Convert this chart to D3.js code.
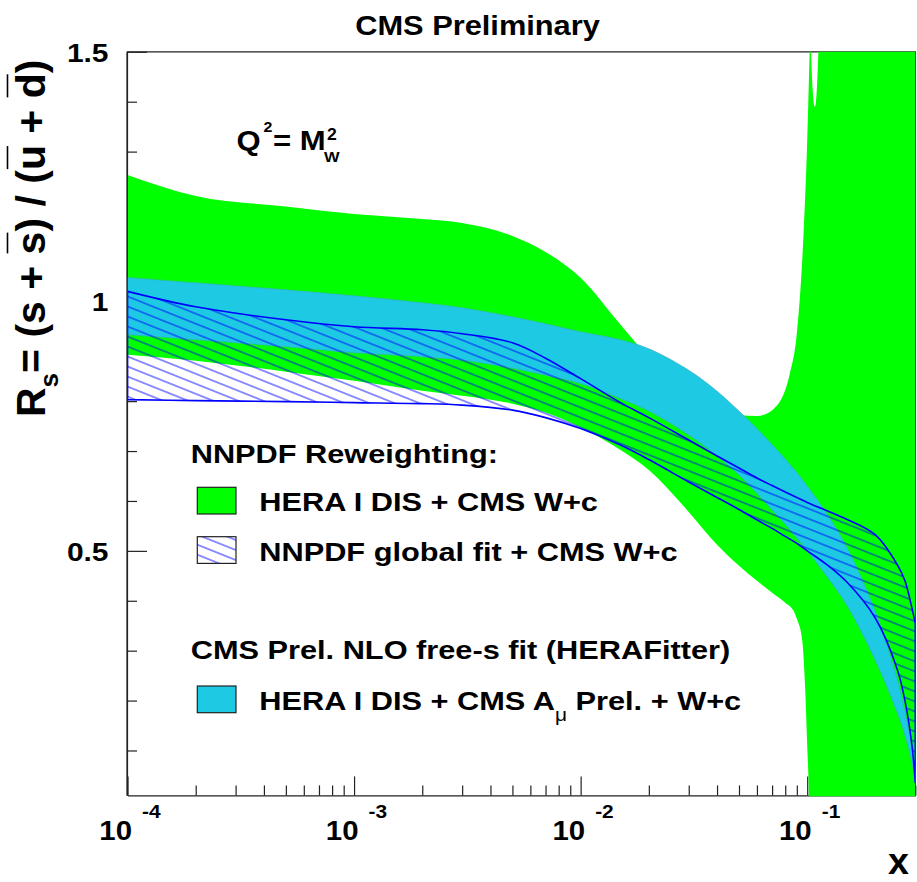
<!DOCTYPE html>
<html>
<head>
<meta charset="utf-8">
<script src="https://cdn.jsdelivr.net/npm/d3@7"></script>
<style>
  body { margin: 0; background: #fff; }
  text { font-family: "Liberation Sans", Arial, Helvetica, sans-serif; font-weight: bold; fill: #000; }
</style>
</head>
<body>
<script>
// ---- data ----
// common x grid for the HERAFitter band and the NNPDF global-fit band
var xGrid   = [1e-4, 2e-4, 5e-4, 1e-3, 2e-3, 3e-3, 5e-3, 7e-3, 0.01, 0.015, 0.02, 0.03, 0.04,
               0.05, 0.06, 0.07, 0.08, 0.09, 0.1, 0.12, 0.15, 0.2, 0.25, 0.27, 0.29, 0.3];
var cyanHi  = [1.048, 1.037, 1.023, 1.011, 0.997, 0.987, 0.969, 0.955, 0.939, 0.923, 0.905, 0.862, 0.82,
               0.78, 0.745, 0.713, 0.684, 0.657, 0.63, 0.58, 0.506, 0.378, 0.242, 0.178, 0.106, 0.058];
var cyanLo  = [0.933, 0.923, 0.909, 0.897, 0.889, 0.882, 0.866, 0.852, 0.835, 0.805, 0.78, 0.732, 0.69,
               0.652, 0.615, 0.582, 0.553, 0.525, 0.50, 0.453, 0.39, 0.28, 0.175, 0.13, 0.075, 0.035];
var hatchHi = [1.02, 0.989, 0.963, 0.949, 0.943, 0.935, 0.917, 0.886, 0.845, 0.797, 0.767, 0.722, 0.69,
               0.666, 0.646, 0.631, 0.618, 0.607, 0.597, 0.582, 0.563, 0.532, 0.472, 0.44, 0.385, 0.355];
var hatchLo = [0.803, 0.801, 0.799, 0.797, 0.795, 0.792, 0.782, 0.767, 0.745, 0.712, 0.683, 0.638, 0.607,
               0.583, 0.562, 0.545, 0.529, 0.515, 0.50, 0.475, 0.437, 0.365, 0.262, 0.2, 0.11, 0.035];

// NNPDF reweighting (HERA I DIS + CMS W+c) band, diverges near x = 0.1
var greenUpX = [1e-4, 2e-4, 5e-4, 1e-3, 2e-3, 3e-3, 5e-3, 7e-3, 0.01, 0.015, 0.02, 0.03, 0.04, 0.05, 0.06,
                0.0713, 0.0839, 0.09, 0.0964, 0.0997, 0.1025, 0.1033, 0.1039, 0.1082, 0.112, 0.1135, 0.12, 0.3];
var greenUp  = [1.253, 1.211, 1.19, 1.175, 1.165, 1.157, 1.131, 1.099, 1.047, 0.953, 0.889, 0.832, 0.795, 0.772, 0.77,
                0.785, 0.856, 0.936, 1.137, 1.303, 1.5, 1.56, 1.5, 1.39, 1.5, 1.7, 2.5, 2.5];
var greenLoX = [1e-4, 2e-4, 5e-4, 1e-3, 2e-3, 3e-3, 5e-3, 7e-3, 0.01, 0.015, 0.02, 0.03, 0.04, 0.05, 0.06,
                0.07, 0.08, 0.0875, 0.09, 0.095, 0.098, 0.1, 0.1017, 0.103, 0.3];
var greenLo  = [0.893, 0.881, 0.859, 0.841, 0.821, 0.811, 0.795, 0.777, 0.747, 0.702, 0.662, 0.578, 0.512, 0.47, 0.44,
                0.416, 0.396, 0.378, 0.364, 0.322, 0.222, 0.112, 0.0, -0.5, -0.5];

var xMajor = [1e-4, 1e-3, 1e-2, 1e-1];
var xMajorExp = ['-4', '-3', '-2', '-1'];
var xMinor = [2e-4, 3e-4, 4e-4, 5e-4, 6e-4, 7e-4, 8e-4, 9e-4,
              2e-3, 3e-3, 4e-3, 5e-3, 6e-3, 7e-3, 8e-3, 9e-3,
              0.02, 0.03, 0.04, 0.05, 0.06, 0.07, 0.08, 0.09, 0.2, 0.3];
var yMajor = [0.5, 1, 1.5];
var yMajorLabels = ['0.5', '1', '1.5'];
var yMinor = [0.1, 0.2, 0.3, 0.4, 0.6, 0.7, 0.8, 0.9, 1.1, 1.2, 1.3, 1.4];

var green = '#00ff00', cyan = '#1dc9e3', blue = '#0000ff';

var svg = d3.select('body').append('svg')
    .attr('width', 917)
    .attr('height', 882);

var x = d3.scaleLog().domain([1e-4, 0.3]).range([127.5, 915.3]);
var y = d3.scaleLinear().domain([0.01, 1.5]).range([795.4, 51.8]);

var defs = svg.append('defs');
defs.append('clipPath').attr('id', 'plotclip')
    .append('rect')
    .attr('x', 127.6).attr('y', 51.8)
    .attr('width', 915.3 - 127.6).attr('height', 796.2 - 51.8);

defs.append('pattern')
    .attr('id', 'hatch')
    .attr('patternUnits', 'userSpaceOnUse')
    .attr('width', 12).attr('height', 9.3)
    .attr('patternTransform', 'rotate(21.8)')
  .append('line')
    .attr('x1', 0).attr('x2', 12).attr('y1', 4.65).attr('y2', 4.65)
    .attr('stroke', blue).attr('stroke-width', 0.9);

// helper for (horizontally stretched) text
function label(g, px, py, str, size, sx, anchor) {
    return g.append('text')
        .attr('transform', 'translate(' + px + ',' + py + ') scale(' + sx + ',1)')
        .attr('text-anchor', anchor || 'start')
        .style('font-size', size + 'px')
        .text(str);
}

// frame
svg.append('path')
    .attr('d', 'M127,51.8H915.3V795.4')
    .attr('fill', 'none').attr('stroke', '#222').attr('stroke-width', 1.2);

// bottom axis (major + minor ticks, pointing up)
svg.append('g')
    .attr('transform', 'translate(0,795.4)')
    .call(d3.axisBottom(x).tickValues(xMinor).tickSize(-10).tickFormat(''))
    .call(g => g.select('.domain').remove());
svg.append('g')
    .attr('transform', 'translate(0,795.4)')
    .call(d3.axisBottom(x).tickValues(xMajor).tickSize(-19).tickSizeOuter(0).tickFormat(''));

// left axis (ticks pointing right)
svg.append('g')
    .attr('transform', 'translate(127,0)')
    .call(d3.axisLeft(y).tickValues(yMinor).tickSize(-10).tickFormat(''))
    .call(g => g.select('.domain').remove());
svg.append('g')
    .attr('transform', 'translate(127,0)')
    .call(d3.axisLeft(y).tickValues(yMajor).tickSize(-20).tickSizeOuter(0).tickFormat(''));

svg.selectAll('.tick line').attr('stroke', '#222').attr('stroke-width', 1.2);
svg.selectAll('.domain').attr('stroke', '#222').attr('stroke-width', 1.2);

// ---- bands ----
var plot = svg.append('g').attr('clip-path', 'url(#plotclip)');

var line = d3.line()
    .x(d => x(d[0]))
    .y(d => y(d[1]))
    .curve(d3.curveMonotoneX);

var greenUpper = line(d3.zip(greenUpX, greenUp));
var greenLower = line(d3.zip(greenLoX, greenLo).reverse());
plot.append('path')
    .attr('d', greenUpper + 'L' + greenLower.slice(1) + 'Z')
    .attr('fill', green);

var band = d3.area()
    .x(d => x(d[0]))
    .y0(d => y(d[1]))
    .y1(d => y(d[2]))
    .curve(d3.curveCatmullRom.alpha(0.5));

plot.append('path')
    .attr('d', band(d3.zip(xGrid, cyanLo, cyanHi)))
    .attr('fill', cyan)
    .attr('stroke', '#3fa9bb')
    .attr('stroke-width', 0.6);

plot.append('path')
    .attr('d', band(d3.zip(xGrid, hatchLo, hatchHi)))
    .attr('fill', 'url(#hatch)')
    .attr('stroke', blue)
    .attr('stroke-width', 1.6);

// left axis line again, on top of the bands
svg.append('line')
    .attr('x1', 127).attr('x2', 127).attr('y1', 51.8).attr('y2', 795.4)
    .attr('stroke', '#222').attr('stroke-width', 1.2);

// ---- tick labels ----
yMajor.forEach(function(v, i) {
    label(svg, 108.5, y(v) + 9.8, yMajorLabels[i], 26.5, 1.13, 'end');
});
xMajor.forEach(function(v, i) {
    label(svg, x(v) + 4.5, 840, '10', 27.5, 1.07, 'end');
    label(svg, x(v) + 14.5, 818, xMajorExp[i], 19, 1.1, 'start');
});

// axis titles
label(svg, 909, 874, 'x', 36.5, 1.03, 'end');

var yt = svg.append('g').attr('transform', 'translate(45,417) rotate(-90)');
var ytext = yt.append('text').style('font-size', '41px');
ytext.append('tspan').text('R');
ytext.append('tspan').attr('dy', 13).style('font-size', '26px').text('s');
ytext.append('tspan').attr('dy', -13).text('= (s + s) / (u + d)');
[9, 15, 19].forEach(function(ci) {
    var e = ytext.node().getExtentOfChar(ci);
    yt.append('line')
        .attr('x1', e.x + 1).attr('x2', e.x + e.width - 1)
        .attr('y1', -37.5).attr('y2', -37.5)
        .attr('stroke', '#000').attr('stroke-width', 1.6);
});

// title
label(svg, 477.5, 35, 'CMS Preliminary', 28, 1.1, 'middle');

// Q^2 = M_W^2
label(svg, 236.5, 150, 'Q', 27, 1.15);
label(svg, 263.5, 132, '2', 14.5, 1.1);
label(svg, 273, 150, '= M', 27, 1.15);
label(svg, 327, 140, '2', 16, 1.1);
label(svg, 324, 162, 'W', 15, 1.1);

// ---- legend ----
var leg = svg.append('g');
var boxes = [
    {y: 487.3, fill: green},
    {y: 536.7, fill: 'url(#hatch)'},
    {y: 686, fill: cyan}
];
leg.selectAll('rect.box')
    .data(boxes)
    .enter().append('rect')
    .attr('class', 'box')
    .attr('x', 197.3).attr('y', d => d.y)
    .attr('width', 38.7).attr('height', 26.7)
    .attr('fill', d => d.fill)
    .attr('stroke', '#222').attr('stroke-width', 1.2);

label(leg, 190.7, 462.7, 'NNPDF Reweighting:', 26.5, 1.16);
label(leg, 259.3, 510.7, 'HERA I DIS + CMS W+c', 26.5, 1.16);
label(leg, 259.3, 560.5, 'NNPDF global fit + CMS W+c', 26.5, 1.16);
label(leg, 190.7, 659, 'CMS Prel. NLO free-s fit (HERAFitter)', 26.5, 1.16);
var l4 = label(leg, 259.3, 710, '', 26.5, 1.16);
l4.append('tspan').text('HERA I DIS + CMS A');
l4.append('tspan').attr('dy', 11).style('font-size', '18px').style('font-weight', 'normal').text('\u03bc');
l4.append('tspan').attr('dy', -11).text(' Prel. + W+c');
</script>
</body>
</html>
